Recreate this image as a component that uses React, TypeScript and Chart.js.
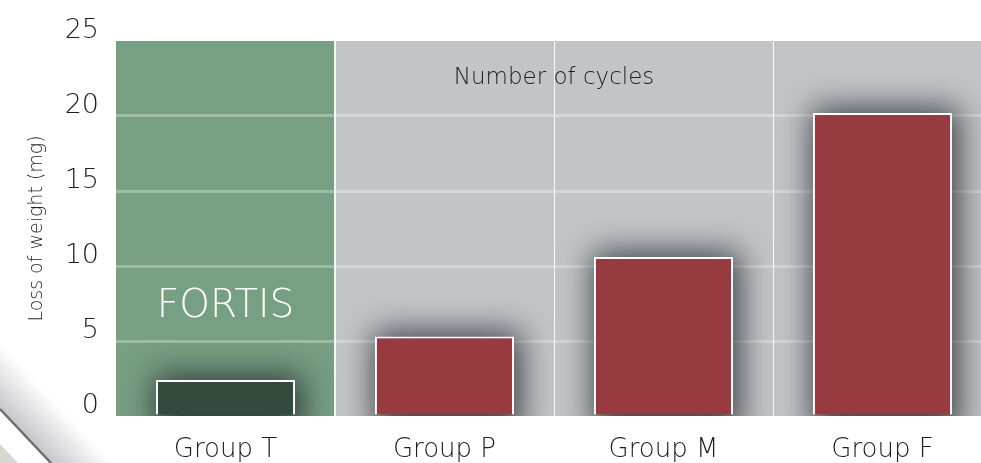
import React, { useEffect, useRef } from "react";
import { Chart, registerables } from "chart.js";

Chart.register(...registerables);

const categories = ["Group T", "Group P", "Group M", "Group F"];
const lossValues = [2.4, 5.3, 10.6, 20.2];
const yTickValues = [0, 5, 10, 15, 20, 25];
const yAxisTitle = "Loss of weight (mg)";
const innerTitle = "Number of cycles";
const highlightLabel = "FORTIS";

const FONT = "'DejaVu Sans', 'Liberation Sans', sans-serif";

const decorPlugin = {
  id: "decor",
  beforeDraw(chart: any) {
    const { ctx, chartArea, scales } = chart;
    const { left, right, top, bottom } = chartArea;
    const x = scales.x;
    const b1 = (x.getPixelForValue(0) + x.getPixelForValue(1)) / 2;
    ctx.save();
    // decorative page stripe bottom-left
    const g = ctx.createLinearGradient(0, 409, 33, 378);
    g.addColorStop(0, "rgba(160,160,168,0.6)");
    g.addColorStop(1, "rgba(160,160,168,0)");
    ctx.fillStyle = g;
    ctx.beginPath();
    ctx.moveTo(0, 300);
    ctx.lineTo(0, 409);
    ctx.lineTo(51, 463);
    ctx.lineTo(160, 463);
    ctx.closePath();
    ctx.fill();
    ctx.fillStyle = "#d8d8d0";
    ctx.beginPath();
    ctx.moveTo(0, 444);
    ctx.lineTo(18, 463);
    ctx.lineTo(0, 463);
    ctx.closePath();
    ctx.fill();
    ctx.strokeStyle = "#6e6e72";
    ctx.lineWidth = 2.5;
    ctx.beginPath();
    ctx.moveTo(0, 409);
    ctx.lineTo(51, 463);
    ctx.stroke();
    // plot backgrounds
    ctx.fillStyle = "#779f82";
    ctx.fillRect(left, top, b1 - left, bottom - top);
    ctx.fillStyle = "#c3c4c8";
    ctx.fillRect(b1, top, right - b1, bottom - top);
    ctx.restore();
  },
  beforeDatasetsDraw(chart: any) {
    const { ctx, chartArea } = chart;
    const meta = chart.getDatasetMeta(0);
    ctx.save();
    ctx.beginPath();
    ctx.rect(chartArea.left, chartArea.top, chartArea.right - chartArea.left, chartArea.bottom - chartArea.top);
    ctx.clip();
    ctx.filter = "blur(16px)";
    ctx.fillStyle = "rgba(30,32,40,0.8)";
    meta.data.forEach((el: any) => {
      const p = el.getProps(["x", "y", "base", "width"], true);
      const w = p.width + 8;
      ctx.fillRect(p.x - w / 2 + 3, p.y - 5, w, p.base - p.y + 25);
    });
    ctx.restore();
  },
  afterDatasetsDraw(chart: any) {
    const { ctx, scales } = chart;
    const x = scales.x;
    const y = scales.y;
    ctx.save();
    ctx.textAlign = "center";
    ctx.textBaseline = "middle";
    ctx.fillStyle = "#1e1e20";
    ctx.font = `200 23px ${FONT}`;
    const cx = (x.getPixelForValue(1) + x.getPixelForValue(2)) / 2;
    ctx.fillText(innerTitle, cx, y.getPixelForValue(22.5));
    ctx.fillStyle = "#ffffff";
    ctx.font = `200 39px ${FONT}`;
    ctx.fillText(highlightLabel, x.getPixelForValue(0), y.getPixelForValue(7.3));
    ctx.restore();
  },
};

export default function App() {
  const canvasRef = useRef<HTMLCanvasElement | null>(null);

  useEffect(() => {
    if (!canvasRef.current) return;
    const chart = new Chart(canvasRef.current, {
      type: "bar",
      data: {
        labels: categories,
        datasets: [
          {
            data: lossValues,
            backgroundColor: ["#334a3c", "#973b41", "#973b41", "#973b41"],
            borderColor: "#ffffff",
            borderWidth: 2,
            barPercentage: 0.635,
            categoryPercentage: 1,
          },
        ],
      },
      options: {
        animation: false,
        responsive: false,
        maintainAspectRatio: false,
        layout: { padding: { left: 0, top: 41, right: 8, bottom: 0 } },
        plugins: {
          legend: { display: false },
          tooltip: { enabled: false },
        },
        scales: {
          x: {
            border: { display: false },
            grid: {
              offset: true,
              drawTicks: false,
              color: (c: any) => (c.index === 0 ? "rgba(0,0,0,0)" : "rgba(255,255,255,0.9)"),
              lineWidth: (c: any) => (c.index === 1 ? 2 : 1),
            },
            ticks: {
              color: "#1e1e20",
              padding: 19,
              font: { family: FONT, size: 26, weight: "200" as any },
            },
            afterFit: (s: any) => {
              s.height = 47;
            },
          },
          y: {
            min: 0,
            max: 25,
            border: { display: false },
            grid: {
              drawTicks: false,
              lineWidth: 3,
              color: (c: any) =>
                c.tick && (c.tick.value === 0 || c.tick.value === 25)
                  ? "rgba(0,0,0,0)"
                  : "rgba(255,255,255,0.3)",
            },
            afterBuildTicks: (s: any) => {
              s.ticks = yTickValues.map((v) => ({ value: v }));
            },
            ticks: {
              color: "#1e1e20",
              padding: 17,
              labelOffset: -10,
              font: { family: FONT, size: 27, weight: "200" as any },
            },
            title: {
              display: true,
              text: yAxisTitle,
              color: "#1e1e20",
              padding: { top: 26, bottom: 0 },
              font: { family: FONT, size: 19, weight: "200" as any },
            },
            afterFit: (s: any) => {
              s.width = 116;
            },
          },
        },
      },
      plugins: [decorPlugin],
    });
    return () => chart.destroy();
  }, []);

  return (
    <div
      style={{
        position: "fixed",
        left: 0,
        top: 0,
        width: 981,
        height: 463,
        overflow: "hidden",
        background: "#ffffff",
      }}
    >
      <canvas ref={canvasRef} width={1000} height={463} style={{ display: "block" }} />
    </div>
  );
}
